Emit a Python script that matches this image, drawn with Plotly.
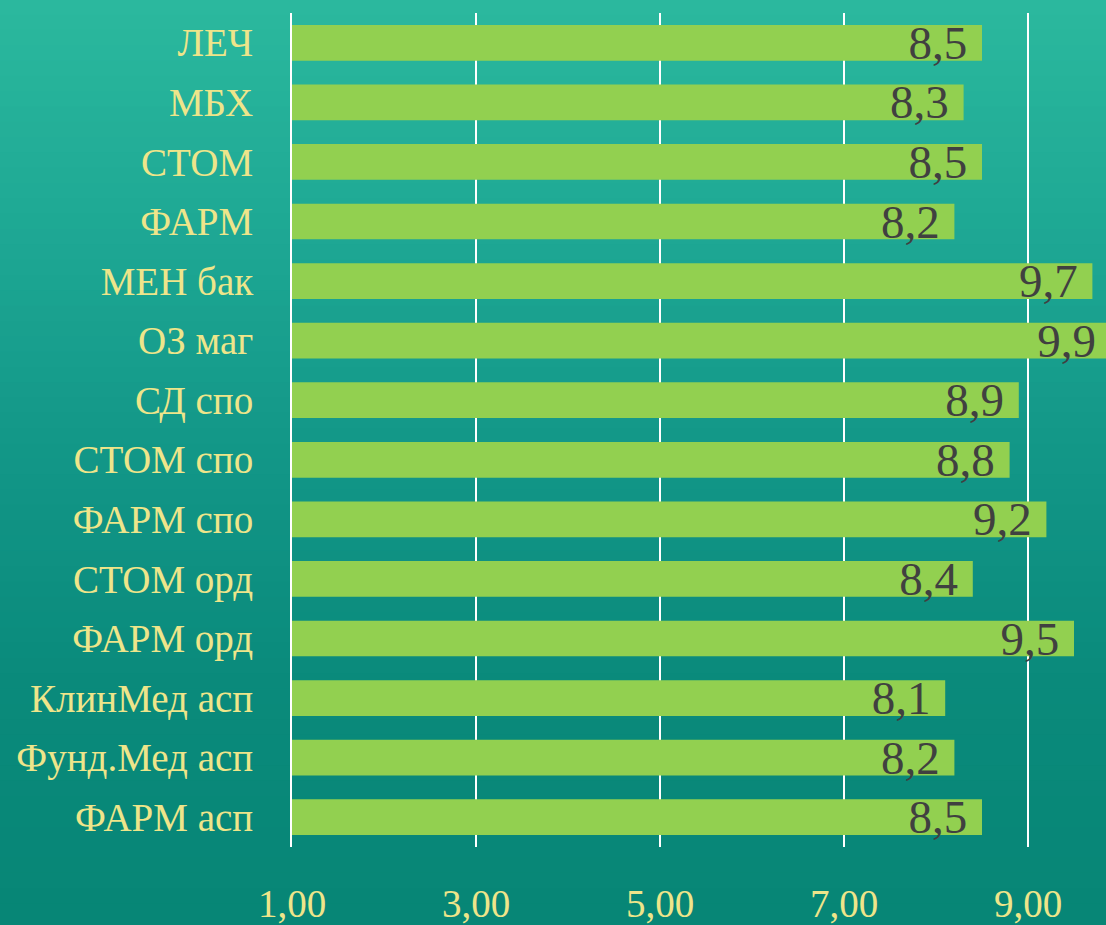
import plotly.graph_objects as go

categories = ["ЛЕЧ", "МБХ", "СТОМ", "ФАРМ", "МЕН бак", "ОЗ маг", "СД спо", "СТОМ спо",
              "ФАРМ спо", "СТОМ орд", "ФАРМ орд", "КлинМед асп", "Фунд.Мед асп", "ФАРМ асп"]
values = [8.5, 8.3, 8.5, 8.2, 9.7, 9.9, 8.9, 8.8, 9.2, 8.4, 9.5, 8.1, 8.2, 8.5]
x_ticks = [1, 3, 5, 7, 9]
x_ticktext = ["1,00", "3,00", "5,00", "7,00", "9,00"]
value_labels = [f"{v:.1f}".replace(".", ",") + "\u00a0" for v in values]

SERIF = "Liberation Serif, Times New Roman, serif"
LABEL_COLOR = "#eee58a"

fig = go.Figure()
fig.add_trace(go.Bar(
    x=values, y=categories, orientation="h",
    marker=dict(color="#92d050", line=dict(width=0)),
    width=0.6,
    text=value_labels, textposition="inside", insidetextanchor="end",
    constraintext="none", textangle=0,
    textfont=dict(family=SERIF, size=47, color="#404040"),
))

# vertical gradient background via stacked strips
stops = [(0.0, (43, 185, 158)), (0.25, (30, 168, 148)), (0.5, (18, 150, 135)),
         (0.75, (10, 138, 123)), (1.0, (7, 134, 118))]
def col_at(t):
    for (t0, c0), (t1, c1) in zip(stops[:-1], stops[1:]):
        if t0 <= t <= t1:
            f = (t - t0) / (t1 - t0)
            return tuple(round(a + (b - a) * f) for a, b in zip(c0, c1))
    return stops[-1][1]

H, W = 925, 1120
ml, mr, mt, mb = 292, 0, 13, 73
ph = H - mt - mb
n = 60
shapes = []
for i in range(n):
    top_px = H * i / n - 1
    bot_px = H * (i + 1) / n + 1
    if i == n - 1:
        bot_px = H + 20
    t = (i + 0.5) / n
    c = col_at(t)
    y0 = (H - mb - bot_px) / ph
    y1 = (H - mb - top_px) / ph
    shapes.append(dict(type="rect", xref="paper", yref="paper",
                       x0=-ml / (W - ml - mr) - 0.01, x1=1.0 + 0.02, y0=y0, y1=y1,
                       fillcolor=f"rgb({c[0]},{c[1]},{c[2]})",
                       line=dict(width=0), layer="below"))

fig.update_layout(
    width=W, height=H,
    margin=dict(l=ml, r=mr, t=mt, b=mb),
    paper_bgcolor="rgb(7,134,118)",
    plot_bgcolor="rgba(0,0,0,0)",
    shapes=shapes,
    showlegend=False,
    bargap=0.4,
    xaxis=dict(range=[1, 10], tickvals=x_ticks, ticktext=x_ticktext,
               showgrid=True, gridcolor="white", gridwidth=2,
               zeroline=False, showline=False,
               tickfont=dict(family=SERIF, size=39, color=LABEL_COLOR),
               ticklabelstandoff=30),
    yaxis=dict(autorange="reversed", showgrid=False, zeroline=False,
               showline=True, linecolor="white", linewidth=2,
               tickfont=dict(family=SERIF, size=39, color=LABEL_COLOR),
               ticklabelstandoff=29),
)

fig.write_html("out.html", config={"displayModeBar": False},
               post_script="document.body.style.margin='0';document.body.style.overflow='hidden';"
                           "document.body.style.background='rgb(7,134,118)';")
